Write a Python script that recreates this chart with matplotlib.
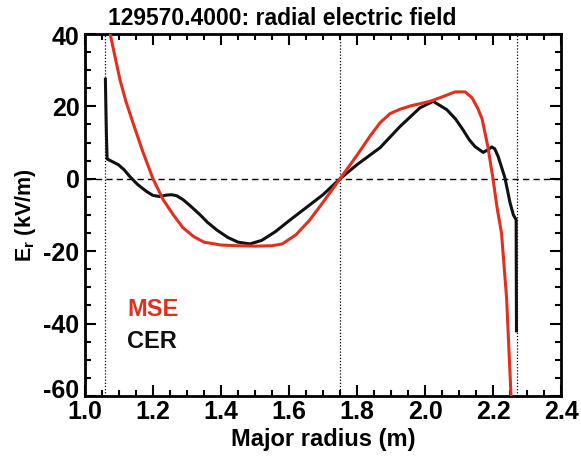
import matplotlib
matplotlib.use("Agg")
import matplotlib.pyplot as plt
import matplotlib.transforms as mtrans
from matplotlib.ticker import MultipleLocator

plt.rcParams['font.family'] = ['Liberation Sans', 'DejaVu Sans']
plt.rcParams['font.weight'] = 'bold'
plt.rcParams['mathtext.fontset'] = 'custom'
plt.rcParams['mathtext.rm'] = 'Liberation Sans:bold'
plt.rcParams['mathtext.bf'] = 'Liberation Sans:bold'

title = "129570.4000: radial electric field"
xlabel = "Major radius (m)"
ylabel = r"E$_\mathbf{r}$ (kV/m)"

mse_r = [1.074, 1.09, 1.103, 1.12, 1.141, 1.17, 1.2, 1.23, 1.26, 1.288, 1.32, 1.35,
         1.4, 1.45, 1.5, 1.55, 1.58, 1.62, 1.66, 1.70, 1.75, 1.8, 1.84, 1.868,
         1.897, 1.926, 1.96, 2.015, 2.05, 2.088, 2.118, 2.138, 2.155, 2.168,
         2.185, 2.2, 2.212, 2.225, 2.24, 2.253]
mse_er = [40, 33, 27.3, 21.5, 15.5, 7.5, 0, -5.8, -10, -13.5, -16, -17.5,
          -18.3, -18.5, -18.6, -18.5, -18, -15.5, -11.5, -6.5, 0, 6.5, 12, 15.5,
          18.0, 19.2, 20.2, 21.4, 22.6, 24, 24, 22.4, 19.5, 16.5,
          8.8, 0, -8, -15, -33, -60]

cer_r = [1.06, 1.061, 1.063, 1.065, 1.075, 1.098, 1.115, 1.132, 1.155, 1.181, 1.2,
         1.22, 1.24, 1.255, 1.27, 1.289, 1.31, 1.338, 1.36, 1.387, 1.42, 1.45,
         1.485, 1.52, 1.56, 1.6, 1.65, 1.7, 1.75, 1.8, 1.868, 1.926, 1.985,
         2.024, 2.064, 2.09, 2.112, 2.13, 2.147, 2.171, 2.185, 2.196, 2.205,
         2.215, 2.235, 2.25, 2.26, 2.268, 2.269]
cer_er = [27.5, 22, 12, 5.5, 5.0, 3.9, 2.5, 0.6, -1.6, -3.5, -4.6,
          -4.9, -4.5, -4.4, -4.7, -5.8, -7.5, -9.9, -12, -14.1, -16.2, -17.5,
          -18.0, -17, -14.6, -11.6, -8, -4.4, 0, 3.9, 8.6, 14.4, 19.6,
          21.4, 19.1, 16.5, 13.5, 10.8, 8.9, 7.3, 8.0, 8.8, 8.3,
          6.2, 0.3, -6.6, -10, -11.3, -42]

vlines = [1.06, 1.75, 2.27]
xticks = [1.0, 1.2, 1.4, 1.6, 1.8, 2.0, 2.2, 2.4]
yticks = [-60, -40, -20, 0, 20, 40]
legend_labels = ["MSE", "CER"]

red = '#e0301e'
fig = plt.figure(figsize=(5.81, 4.65), dpi=100)
ax = fig.add_axes([0.1463, 0.1484, 0.8193, 0.7785])

for v in vlines:
    ax.axvline(v, color='black', lw=0.9, ls=(0, (1, 1.5)), zorder=1)
ax.axhline(0, color='black', lw=1.0, ls=(0, (4.5, 3)), zorder=1)

ax.plot(mse_r, mse_er, color=red, lw=2.2, zorder=3)
ax.plot(cer_r, cer_er, color='#111111', lw=2.2, zorder=2)

ax.set_xlim(1.0, 2.4)
ax.set_ylim(-60, 40)
ax.set_xticks(xticks)
ax.set_yticks(yticks)
ax.set_xticklabels([f"{t:.1f}" for t in xticks])
ax.set_yticklabels([str(t) for t in yticks])
ax.xaxis.set_minor_locator(MultipleLocator(0.05))
ax.yaxis.set_minor_locator(MultipleLocator(5))
ax.tick_params(which='both', direction='in', top=True, right=True, width=1.5)
ax.tick_params(which='major', length=8, labelsize=18)
ax.tick_params(axis='x', which='major', pad=3)
ax.tick_params(axis='y', which='major', pad=4)
ax.tick_params(which='minor', length=4)
for s in ax.spines.values():
    s.set_linewidth(2)

# nudge the end y tick labels inward like the reference
ylabs = ax.get_yticklabels()
ylabs[0].set_transform(ylabs[0].get_transform() + mtrans.ScaledTranslation(0, 7 / 100, fig.dpi_scale_trans))
ylabs[-1].set_transform(ylabs[-1].get_transform() + mtrans.ScaledTranslation(0, -2 / 100, fig.dpi_scale_trans))

fig.text(282 / 581, 1 - 25 / 465, title, fontsize=16.5, fontweight='bold', ha='center', va='baseline')
ax.set_xlabel(xlabel, fontsize=17, fontweight='bold', labelpad=3)
ax.set_ylabel(ylabel, fontsize=15.5, fontweight='bold', labelpad=4)

ax.text(1.124, -36.2, legend_labels[0], color=red, fontsize=17, fontweight='bold', va='center')
ax.text(1.124, -45.0, legend_labels[1], color='#111111', fontsize=17, fontweight='bold', va='center')

fig.savefig("out.png", dpi=100)
